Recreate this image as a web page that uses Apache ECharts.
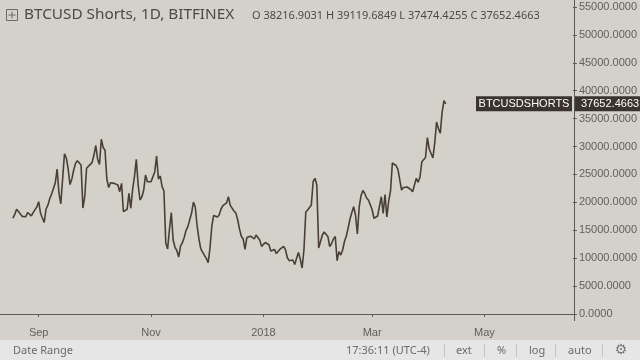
<!DOCTYPE html>
<html><head><meta charset="utf-8">
<script src="https://cdn.jsdelivr.net/npm/echarts@6/dist/echarts.min.js"></script>
<style>html,body{margin:0;padding:0;background:#d4d1ca}#c{width:640px;height:360px}</style>
</head><body><div id="c"></div>
<script>
const symbolName = 'BTCUSDSHORTS';
const titleText = 'BTCUSD Shorts, 1D, BITFINEX';
const ohlcText = 'O 38216.9031 H 39119.6849 L 37474.4255 C 37652.4663';
const lastCloseText = '37652.4663';
const axisStart = '2017-08-11';
const axisEnd = '2018-06-18';
const firstDate = '2017-08-18';
const shorts = [
  17150,17840,18760,18940,17950,17490,17410,17430,18180,17950,
  17590,17920,18700,19170,20120,18090,17200,16410,18810,19490,
  20670,21500,21770,23470,25980,21680,19710,19530,28720,27950,
  25980,23180,24190,25800,26980,27460,27460,26690,18990,21010,
  26100,26410,26800,27160,28480,30190,27710,26780,31300,29830,
  29330,24190,22660,23520,23520,23400,23550,23110,21910,23410,
  18330,18330,18760,21620,18940,22340,24600,27710,23110,20420,
  20960,22160,24900,23700,24010,23720,23470,25440,28310,24190,
  24720,22810,22040,12720,11650,15230,18150,13260,11950,11380,
  10210,12180,12790,13700,14980,15660,15410,18090,20060,19170,
  15850,13440,11650,11860,10500,9960,9190,11820,15770,17650,
  17610,17380,17740,18810,19400,19650,19900,21010,19470,19350,
  18450,18090,16930,15250,13940,13440,11590,13700,13900,13940,
  13850,13440,14150,14220,13260,12110,12400,12810,12540,12410,
  11290,11540,11570,10820,10930,11610,11900,12110,11470,10070,
  9550,9570,9670,8870,10000,11020,9850,8240,11470,18270,
  18630,18770,19530,23740,24310,23110,11820,12990,14150,14690,
  14510,13880,12090,12630,13440,13880,9550,11160,10570,11470,
  12990,13970,15410,17020,18180,19220,17740,14330,19170,21230,
  22120,21590,20780,20420,20150,18720,17160,17230,17560,17740,
  21010,18040,21410,17380,20240,22040,27050,26960,26600,25940,
  25800,22210,22660,22570,22750,22660,22300,21910,23110,24310,
  23590,24540,27280,27050,28040,31620,29560,29470,27950,30630,
  34400,33230,32370,36100,38216.9031,37652.4663
];
const monthTicks = {'2017-09-01':'Sep','2017-11-01':'Nov','2018-01-01':'2018','2018-03-01':'Mar','2018-05-01':'May'};
const yMin = 0, yMax = 55000, yStep = 5000;
const bottomItems = ['17:36:11 (UTC-4)','ext','%','log','auto'];

function dayList(a,b){
  const out=[]; let t=Date.parse(a+'T00:00:00Z'); const e=Date.parse(b+'T00:00:00Z');
  while(t<=e){ out.push(new Date(t).toISOString().slice(0,10)); t+=86400000; }
  return out;
}
const dates = dayList(axisStart, axisEnd);
const startIdx = dates.indexOf(firstDate);
const seriesData = dates.map((d,i)=> (i>=startIdx && i-startIdx<shorts.length) ? shorts[i-startIdx] : '-');
const lastIdx = startIdx + shorts.length - 1;
const lastVal = shorts[shorts.length-1];

const BG = '#d4d1ca', LINE = '#4a3f38', AX = '#5a5a5a', TXT = '#606060', BOX = '#3b332d';
const chart = echarts.init(document.getElementById('c'), null, {renderer:'canvas'});
const isTick = (i, v) => monthTicks[v] !== undefined;

const option = {
  animation:false,
  backgroundColor: BG,
  grid:{left:0, right:65, top:7, bottom:46, containLabel:false},
  xAxis:{
    type:'category', data:dates, boundaryGap:false, offset:7,
    axisLine:{show:true, lineStyle:{color:AX, width:1}},
    axisTick:{show:true, interval:isTick, length:3, lineStyle:{color:AX}},
    axisLabel:{interval:isTick, formatter:v=>monthTicks[v]||'', color:TXT, fontSize:11, margin:6, fontFamily:'Liberation Sans'},
    splitLine:{show:false}
  },
  yAxis:{
    type:'value', position:'right', min:yMin, max:yMax, interval:yStep,
    axisLine:{show:false},
    axisTick:{show:true, length:4, lineStyle:{color:AX}},
    axisLabel:{formatter:v=>v.toFixed(4), color:TXT, fontSize:11, margin:6, fontFamily:'Liberation Sans'},
    splitLine:{show:false}
  },
  series:[{
    type:'line', data:seriesData, showSymbol:false, symbol:'none',
    lineStyle:{color:LINE, width:1.6}, connectNulls:false
  }]
};
chart.setOption(option);

const py = chart.convertToPixel({xAxisIndex:0, yAxisIndex:0}, [dates[lastIdx], lastVal])[1];
const axisX = 575;
const g = [
  {type:'line', shape:{x1:axisX-0.5, y1:0, x2:axisX-0.5, y2:321}, style:{stroke:AX, lineWidth:1}, z:10},
  {type:'rect', shape:{x:axisX, y:py-7.5, width:65, height:15}, style:{fill:BOX}, z:20},
  {type:'text', x:axisX+6, y:py, style:{text:lastCloseText, fill:'#ffffff', font:'11px "Liberation Sans"', verticalAlign:'middle', align:'left'}, z:21},
  {type:'rect', shape:{x:476, y:py-7.5, width:96, height:15}, style:{fill:BOX}, z:20},
  {type:'text', x:524, y:py, style:{text:symbolName, fill:'#ffffff', font:'11px "Liberation Sans"', verticalAlign:'middle', align:'center'}, z:21},
  {type:'rect', shape:{x:6.5, y:9.5, width:11, height:11}, style:{fill:'none', stroke:'#6a6a6a', lineWidth:1}, z:20},
  {type:'line', shape:{x1:12, y1:11.5, x2:12, y2:18.5}, style:{stroke:'#6a6a6a', lineWidth:1}, z:20},
  {type:'line', shape:{x1:8.5, y1:15, x2:15.5, y2:15}, style:{stroke:'#6a6a6a', lineWidth:1}, z:20},
  {type:'text', x:24, y:15, style:{text:titleText, fill:'#4a4a4a', font:'15.3px "Noto Sans"', verticalAlign:'middle'}, z:20},
  {type:'text', x:252, y:16, style:{text:ohlcText, fill:'#4a4a4a', font:'11px "Noto Sans"', verticalAlign:'middle'}, z:20},
  {type:'rect', shape:{x:0, y:340, width:640, height:20}, style:{fill:'#e6e6e6'}, z:5},
  {type:'text', x:13, y:350.5, style:{text:'Date Range', fill:'#6a6a6a', font:'11px "Noto Sans"', verticalAlign:'middle'}, z:20}
];
const bx = [346, 456, 497, 529, 568];
const seps = [444, 484, 516, 555, 602];
bottomItems.forEach((t,i)=>{
  g.push({type:'text', x:bx[i], y:350.5, style:{text:t, fill:'#6a6a6a', font:'11px "Noto Sans"', verticalAlign:'middle'}, z:20});
});
seps.forEach(x=>{
  g.push({type:'line', shape:{x1:x+0.5, y1:344, x2:x+0.5, y2:357}, style:{stroke:'#c4c4c4', lineWidth:1}, z:20});
});
g.push({type:'text', x:621, y:350.5, style:{text:'⚙', fill:'#777777', font:'14px "DejaVu Sans"', verticalAlign:'middle', align:'center'}, z:20});
chart.setOption({graphic:g});
</script>
</body></html>
